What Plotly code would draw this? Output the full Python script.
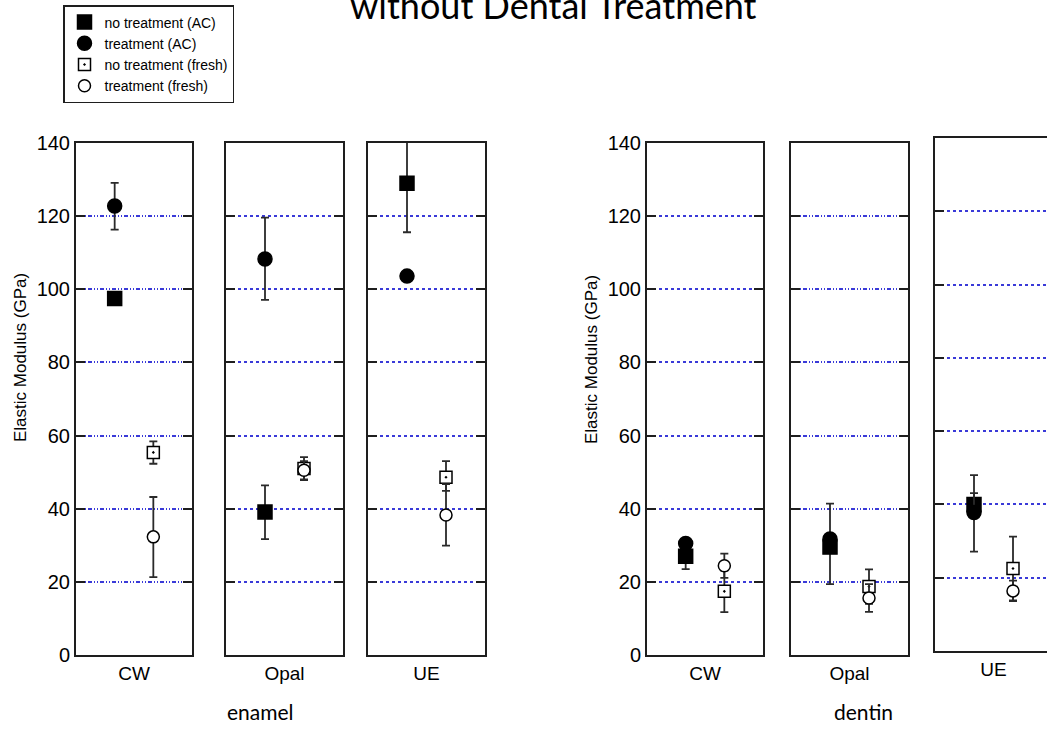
import plotly.graph_objects as go

# ---------------- data ----------------
categories = ["CW", "Opal", "UE", "CW", "Opal", "UE"]
tissues = ["enamel", "dentin"]
conditions = {"AC": 1, "fresh": 2}

series_names = ["no treatment (AC)", "treatment (AC)",
                "no treatment (fresh)", "treatment (fresh)"]

# values per panel: enamel CW, Opal, UE, dentin CW, Opal, UE
no_treat_ac = [97.5, 39.1, 129.0, 27.0, 29.5, 40.0]
no_treat_ac_hi = [0, 7.3, 13.5, 3.5, 11.9, 3.1]
no_treat_ac_lo = [0, 7.4, 13.4, 3.5, 10.1, 3.1]

treat_ac = [122.8, 108.3, 103.6, 30.5, 31.7, 37.8]
treat_ac_hi = [6.3, 11.3, 0, 0, 0, 10.2]
treat_ac_lo = [6.5, 11.2, 0, 0, 0, 10.7]

no_treat_fresh = [55.4, 51.0, 48.6, 17.4, 18.7, 22.5]
no_treat_fresh_hi = [3.0, 3.1, 4.4, 5.7, 4.7, 8.7]
no_treat_fresh_lo = [3.1, 3.2, 3.7, 5.7, 4.7, 8.7]

treat_fresh = [32.3, 50.5, 38.3, 24.4, 15.6, 16.4]
treat_fresh_hi = [10.9, 2.5, 8.4, 3.3, 3.8, 2.8]
treat_fresh_lo = [11.0, 2.5, 8.4, 3.3, 3.8, 2.8]

y_ticks = [0, 20, 40, 60, 80, 100, 120, 140]

# ---------------- layout geometry ----------------
W, H = 1047, 729
panel_left = [76, 226, 368, 647, 791, 935]
panel_right = [192, 343, 485, 763, 908, 1047]
panel_full_w = [116, 117, 117, 116, 117, 117]
panel_top = [143, 143, 143, 143, 143, 138]
panel_bottom = [655, 655, 655, 655, 655, 651]
grid_dash = ["4px,2px,1px,2px,1px,2px", "dot", "dot", "dot",
             "4px,2px,1px,2px,1px,2px", "dot"]

FONT = "Liberation Sans, Arial, sans-serif"
FRAME = "#1e1e1e"
GRID = "#3a3ad8"

series = [
    (series_names[0], no_treat_ac, no_treat_ac_hi, no_treat_ac_lo, "square", "black", 14, "AC"),
    (series_names[1], treat_ac, treat_ac_hi, treat_ac_lo, "circle", "black", 14, "AC"),
    (series_names[2], no_treat_fresh, no_treat_fresh_hi, no_treat_fresh_lo, "square-dot", "white", 12, "fresh"),
    (series_names[3], treat_fresh, treat_fresh_hi, treat_fresh_lo, "circle", "white", 12, "fresh"),
]

fig = go.Figure()
layout_axes = {}
for p in range(6):
    sfx = "" if p == 0 else str(p + 1)
    for name, vals, hi, lo, sym, fill, size, cond in series:
        fig.add_trace(go.Scatter(
            x=[conditions[cond]], y=[vals[p]],
            mode="markers",
            marker=dict(symbol=sym, size=size, color=fill,
                        line=dict(color="black", width=1.5)),
            error_y=dict(type="data", symmetric=False, array=[hi[p]],
                         arrayminus=[lo[p]], color="#2a2a2a",
                         thickness=1.8, width=4),
            name=name, legendgroup=name, showlegend=(p == 0),
            xaxis="x" + sfx, yaxis="y" + sfx,
        ))
    xr = 3.0 * (panel_right[p] - panel_left[p]) / panel_full_w[p]
    layout_axes["xaxis" + sfx] = dict(
        domain=[panel_left[p] / W, panel_right[p] / W],
        range=[0, xr], anchor="y" + sfx,
        showgrid=False, zeroline=False,
        showline=True, linecolor=FRAME, linewidth=2, mirror=True,
        tickvals=[1.5], ticktext=[categories[p]], ticks="",
        tickfont=dict(family=FONT, size=19, color="black"),
        automargin=False, fixedrange=True,
    )
    layout_axes["yaxis" + sfx] = dict(
        domain=[1 - panel_bottom[p] / H, 1 - panel_top[p] / H],
        range=[0, 140], anchor="x" + sfx,
        tickvals=y_ticks, showticklabels=(p in (0, 3)),
        ticks="inside", ticklen=9, tickwidth=2, tickcolor=FRAME,
        showline=True, linecolor=FRAME, linewidth=2,
        mirror=("ticks" if p != 5 else False),
        showgrid=True, gridcolor=GRID, gridwidth=1.5, griddash=grid_dash[p],
        zeroline=False,
        tickfont=dict(family=FONT, size=20, color="black"),
        automargin=False, fixedrange=True,
    )

annotations = [
    dict(text="without Dental Treatment", x=553 / W, y=1 - 29 / H,
         xref="paper", yref="paper", xanchor="center", yanchor="bottom",
         showarrow=False, font=dict(family="Lato, Open Sans, sans-serif", size=36, color="black")),
    dict(text=tissues[0], x=260 / W, y=1 - 711 / H, xref="paper", yref="paper",
         xanchor="center", yanchor="middle", showarrow=False,
         font=dict(family="Lato, Open Sans, sans-serif", size=21, color="black")),
    dict(text=tissues[1], x=863 / W, y=1 - 711 / H, xref="paper", yref="paper",
         xanchor="center", yanchor="middle", showarrow=False,
         font=dict(family="Lato, Open Sans, sans-serif", size=21, color="black")),
    dict(text="Elastic Modulus (GPa)", x=20 / W, y=1 - 358 / H, xref="paper", yref="paper",
         xanchor="center", yanchor="middle", textangle=-90, showarrow=False,
         font=dict(family=FONT, size=17, color="black")),
    dict(text="Elastic Modulus (GPa)", x=591 / W, y=1 - 360 / H, xref="paper", yref="paper",
         xanchor="center", yanchor="middle", textangle=-90, showarrow=False,
         font=dict(family=FONT, size=17, color="black")),
]

fig.update_layout(
    width=W, height=H,
    margin=dict(l=0, r=0, t=0, b=0, autoexpand=False),
    paper_bgcolor="white", plot_bgcolor="white",
    annotations=annotations,
    legend=dict(x=63 / W, y=1 - 5 / H, xanchor="left", yanchor="top",
                bordercolor=FRAME, borderwidth=1.5, bgcolor="white",
                font=dict(family="Liberation Sans Narrow, Arial Narrow, Liberation Sans, sans-serif",
                          size=14, color="black"),
                tracegroupgap=0, itemwidth=30),
    showlegend=True,
    **layout_axes,
)

fig.write_html("out.html")
